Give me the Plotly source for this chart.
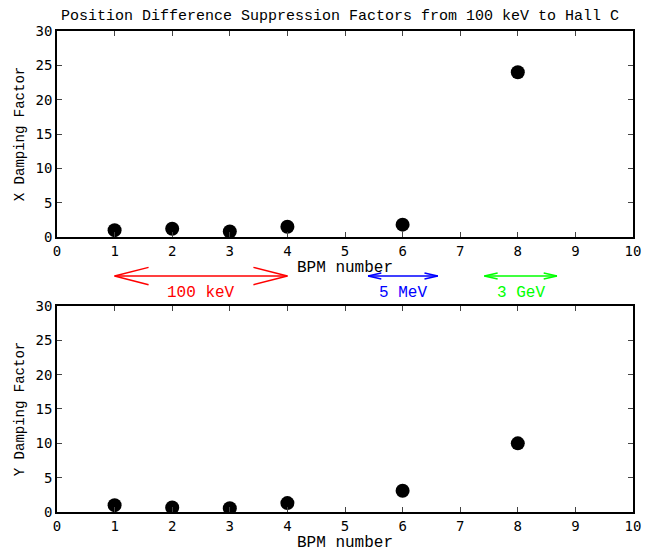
import plotly.graph_objects as go

# ---- data ----
bpm = [1, 2, 3, 4, 6, 8]
x_damping = [1.0, 1.2, 0.8, 1.5, 1.8, 24.0]
y_damping = [1.0, 0.65, 0.55, 1.3, 3.1, 10.0]

energy_labels = ["100 keV", "5 MeV", "3 GeV"]
energy_start = [1.0, 5.4, 7.42]
energy_end = [4.0, 6.61, 8.68]
energy_colors = ["#ff0000", "#0000ff", "#00ff00"]
head_len = [0.59, 0.23, 0.23]        # in BPM units
head_half = [0.018, 0.0063, 0.0063]  # in paper units

title_text = "Position Difference Suppression Factors from 100 keV to Hall C"
FONT = "Liberation Mono"
TICKFONT = "DejaVu Sans Mono"

fig = go.Figure()
fig.add_trace(go.Scatter(x=bpm, y=x_damping, mode="markers", xaxis="x", yaxis="y",
                         marker=dict(color="black", size=14), showlegend=False))
fig.add_trace(go.Scatter(x=bpm, y=y_damping, mode="markers", xaxis="x2", yaxis="y2",
                         marker=dict(color="black", size=14), showlegend=False))

axis_common = dict(range=[0, 10], dtick=1, ticks="inside", ticklen=5, tickwidth=1,
                   showline=True, linecolor="black", linewidth=1.5, mirror="ticks",
                   showgrid=False, zeroline=False, automargin=False,
                   tickfont=dict(family=TICKFONT, size=14, color="black"),
                   title=dict(text="BPM number", font=dict(family=FONT, size=16, color="black"), standoff=2))
yaxis_common = dict(range=[0, 30], dtick=5, ticks="inside", ticklen=5, tickwidth=1,
                    showline=True, linecolor="black", linewidth=1.5, mirror="ticks",
                    showgrid=False, zeroline=False, automargin=False,
                    tickfont=dict(family=TICKFONT, size=14, color="black"))

ARROW_Y = 0.4906
TEXT_Y = 0.4553

shapes = []
annotations = []
for lab, x0, x1, col, hl, hh in zip(energy_labels, energy_start, energy_end, energy_colors, head_len, head_half):
    line = dict(color=col, width=1.5)
    shapes.append(dict(type="line", xref="x", yref="paper", x0=x0, x1=x1, y0=ARROW_Y, y1=ARROW_Y, line=line))
    for tip, d in ((x0, 1), (x1, -1)):
        for s in (1, -1):
            shapes.append(dict(type="line", xref="x", yref="paper", x0=tip, y0=ARROW_Y,
                               x1=tip + d * hl, y1=ARROW_Y + s * hh, line=line))
    annotations.append(dict(text=lab, x=(x0 + x1) / 2, y=TEXT_Y, xref="x", yref="paper",
                            showarrow=False, font=dict(family=FONT, size=16, color=col)))

fig.update_layout(
    width=655, height=550,
    margin=dict(l=49, r=30, t=23, b=46),
    paper_bgcolor="white", plot_bgcolor="white",
    title=dict(text=title_text, x=0.507, xref="container", xanchor="center",
               y=1 - 6.5 / 550, yref="container", yanchor="middle",
               font=dict(family=FONT, size=15, color="black")),
    xaxis=dict(axis_common, anchor="y", domain=[0, 1]),
    yaxis=dict(yaxis_common, anchor="x", domain=[0.5717, 1],
               title=dict(text="X Damping Factor", font=dict(family=FONT, size=14, color="black"), standoff=8)),
    xaxis2=dict(axis_common, anchor="y2", domain=[0, 1]),
    yaxis2=dict(yaxis_common, anchor="x2", domain=[0, 0.4283],
                title=dict(text="Y Damping Factor", font=dict(family=FONT, size=14, color="black"), standoff=8)),
    shapes=shapes,
    annotations=annotations,
    showlegend=False,
)

fig.write_html("out.html")
